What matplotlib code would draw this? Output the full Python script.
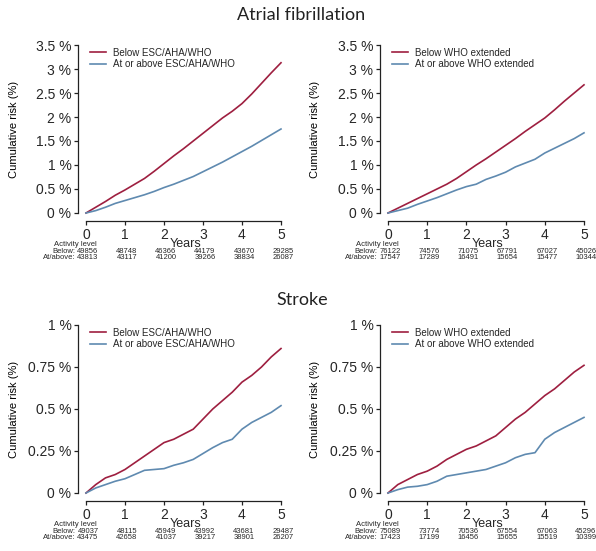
import matplotlib
matplotlib.use("Agg")
import matplotlib.pyplot as plt
import matplotlib.transforms as mtransforms
import numpy as np

plt.rcParams['font.family'] = ['Liberation Sans', 'DejaVu Sans']
plt.rcParams['text.color'] = '#262626'
plt.rcParams['xtick.labelcolor'] = '#262626'
plt.rcParams['ytick.labelcolor'] = '#262626'

years = [0, 0.25, 0.5, 0.75, 1, 1.25, 1.5, 1.75, 2, 2.25, 2.5, 2.75, 3,
         3.25, 3.5, 3.75, 4, 4.25, 4.5, 4.75, 5]

# Atrial fibrillation, ESC/AHA/WHO
af_esc_below = [0, 0.12, 0.24, 0.37, 0.48, 0.60, 0.72, 0.87, 1.03, 1.19, 1.34,
                1.50, 1.66, 1.82, 1.98, 2.12, 2.28, 2.48, 2.70, 2.92, 3.13]
af_esc_above = [0, 0.05, 0.12, 0.20, 0.26, 0.32, 0.38, 0.45, 0.53, 0.60, 0.68,
                0.76, 0.86, 0.96, 1.06, 1.17, 1.28, 1.39, 1.51, 1.63, 1.75]
# Atrial fibrillation, WHO extended
af_who_below = [0, 0.10, 0.20, 0.30, 0.40, 0.50, 0.60, 0.72, 0.86, 1.00, 1.13,
                1.27, 1.41, 1.55, 1.70, 1.84, 1.98, 2.15, 2.33, 2.50, 2.67]
af_who_above = [0, 0.05, 0.10, 0.18, 0.25, 0.32, 0.40, 0.48, 0.55, 0.60, 0.70,
                0.77, 0.85, 0.96, 1.04, 1.12, 1.25, 1.35, 1.45, 1.55, 1.67]
# Stroke, ESC/AHA/WHO
st_esc_below = [0, 0.05, 0.09, 0.11, 0.14, 0.18, 0.22, 0.26, 0.30, 0.32, 0.35,
                0.38, 0.44, 0.50, 0.55, 0.60, 0.66, 0.70, 0.75, 0.81, 0.86]
st_esc_above = [0, 0.03, 0.05, 0.07, 0.085, 0.11, 0.135, 0.14, 0.145, 0.165, 0.18,
                0.20, 0.235, 0.27, 0.30, 0.32, 0.38, 0.42, 0.45, 0.48, 0.52]
# Stroke, WHO extended
st_who_below = [0, 0.05, 0.08, 0.11, 0.13, 0.16, 0.20, 0.23, 0.26, 0.28, 0.31,
                0.34, 0.39, 0.44, 0.48, 0.53, 0.58, 0.62, 0.67, 0.72, 0.76]
st_who_above = [0, 0.02, 0.035, 0.04, 0.05, 0.07, 0.10, 0.11, 0.12, 0.13, 0.14,
                0.16, 0.18, 0.21, 0.23, 0.24, 0.32, 0.36, 0.39, 0.42, 0.45]

# numbers at risk
af_esc_n_below = [49856, 48748, 46366, 44179, 43670, 29285]
af_esc_n_above = [43813, 43117, 41200, 39266, 38834, 26087]
af_who_n_below = [76122, 74576, 71075, 67791, 67027, 45026]
af_who_n_above = [17547, 17289, 16491, 15654, 15477, 10344]
st_esc_n_below = [49037, 48115, 45949, 43992, 43681, 29487]
st_esc_n_above = [43475, 42658, 41037, 39217, 38901, 26207]
st_who_n_below = [75089, 73774, 70536, 67554, 67063, 45296]
st_who_n_above = [17423, 17199, 16456, 15655, 15519, 10399]

af_yticks = [0, 0.5, 1, 1.5, 2, 2.5, 3, 3.5]
af_yticklabels = ['0 %', '0.5 %', '1 %', '1.5 %', '2 %', '2.5 %', '3 %', '3.5 %']
st_yticks = [0, 0.25, 0.5, 0.75, 1]
st_yticklabels = ['0 %', '0.25 %', '0.5 %', '0.75 %', '1 %']
xticks = [0, 1, 2, 3, 4, 5]

RED = '#9e1f40'
BLUE = '#5f8ab0'

W, H = 596, 551
fig = plt.figure(figsize=(W / 100, H / 100), dpi=100)

def px_axes(l, r, b, t):
    return fig.add_axes([l / W, 1 - b / H, (r - l) / W, (b - t) / H])

panels = [
    (px_axes(86, 281, 213, 45), af_esc_below, af_esc_above, 'ESC/AHA/WHO',
     af_yticks, af_yticklabels, af_esc_n_below, af_esc_n_above),
    (px_axes(388, 584, 213, 45), af_who_below, af_who_above, 'WHO extended',
     af_yticks, af_yticklabels, af_who_n_below, af_who_n_above),
    (px_axes(86, 281, 493, 325), st_esc_below, st_esc_above, 'ESC/AHA/WHO',
     st_yticks, st_yticklabels, st_esc_n_below, st_esc_n_above),
    (px_axes(388, 584, 493, 325), st_who_below, st_who_above, 'WHO extended',
     st_yticks, st_yticklabels, st_who_n_below, st_who_n_above),
]

for ax, below, above, name, yt, ytl, nb, na in panels:
    ax.plot(years, below, color=RED, lw=1.2, clip_on=False,
            label='Below ' + name)
    ax.plot(years, above, color=BLUE, lw=1.2, clip_on=False,
            label='At or above ' + name)
    ax.set_xlim(0, 5)
    ax.set_ylim(0, yt[-1])
    ax.set_yticks(yt)
    ax.set_yticklabels(ytl, fontsize=6.5)
    ax.set_xticks(xticks)
    ax.set_xticklabels([str(x) for x in xticks], fontsize=8)
    for s in ['top', 'right']:
        ax.spines[s].set_visible(False)
    for s in ['left', 'bottom']:
        ax.spines[s].set_position(('outward', 6))
        ax.spines[s].set_linewidth(0.9)
        ax.spines[s].set_color('#222222')
    ax.tick_params(length=3, width=0.9, pad=1.5, color='#222222')
    ax.set_ylabel('Cumulative risk (%)', fontsize=8)
    ax.yaxis.set_label_coords(-0.345, 0.5)
    ax.patch.set_visible(False)
    ax.legend(loc='upper left', bbox_to_anchor=(0.02, 0.985), frameon=False,
              fontsize=7, handlelength=1.7, handletextpad=0.7,
              labelspacing=0.2, borderpad=0, borderaxespad=0)

    trans = mtransforms.blended_transform_factory(ax.transData, ax.transAxes)
    ax.text(2.55, -0.183, 'Years', transform=trans, fontsize=9,
            ha='center', va='center')
    ax.text(0.28, -0.19, 'Activity level', transform=trans, fontsize=5.5,
            ha='right', va='center')
    ax.text(-0.27, -0.228, 'Below:', transform=trans, fontsize=5.5,
            ha='right', va='center')
    ax.text(-0.27, -0.262, 'At/above:', transform=trans, fontsize=5.5,
            ha='right', va='center')
    for x, b_, a_ in zip(xticks, nb, na):
        ax.text(x + 0.05, -0.228, str(b_), transform=trans, fontsize=5.5,
                ha='center', va='center')
        ax.text(x + 0.05, -0.262, str(a_), transform=trans, fontsize=5.5,
                ha='center', va='center')

fig.text(301 / W, 1 - 15 / H, 'Atrial fibrillation', fontsize=13,
         family=['Lato', 'DejaVu Sans'], color='#222222', ha='center', va='center')
fig.text(302 / W, 1 - 300 / H, 'Stroke', fontsize=13,
         family=['Lato', 'DejaVu Sans'], color='#222222', ha='center', va='center')

fig.savefig('out.png', dpi=100)
